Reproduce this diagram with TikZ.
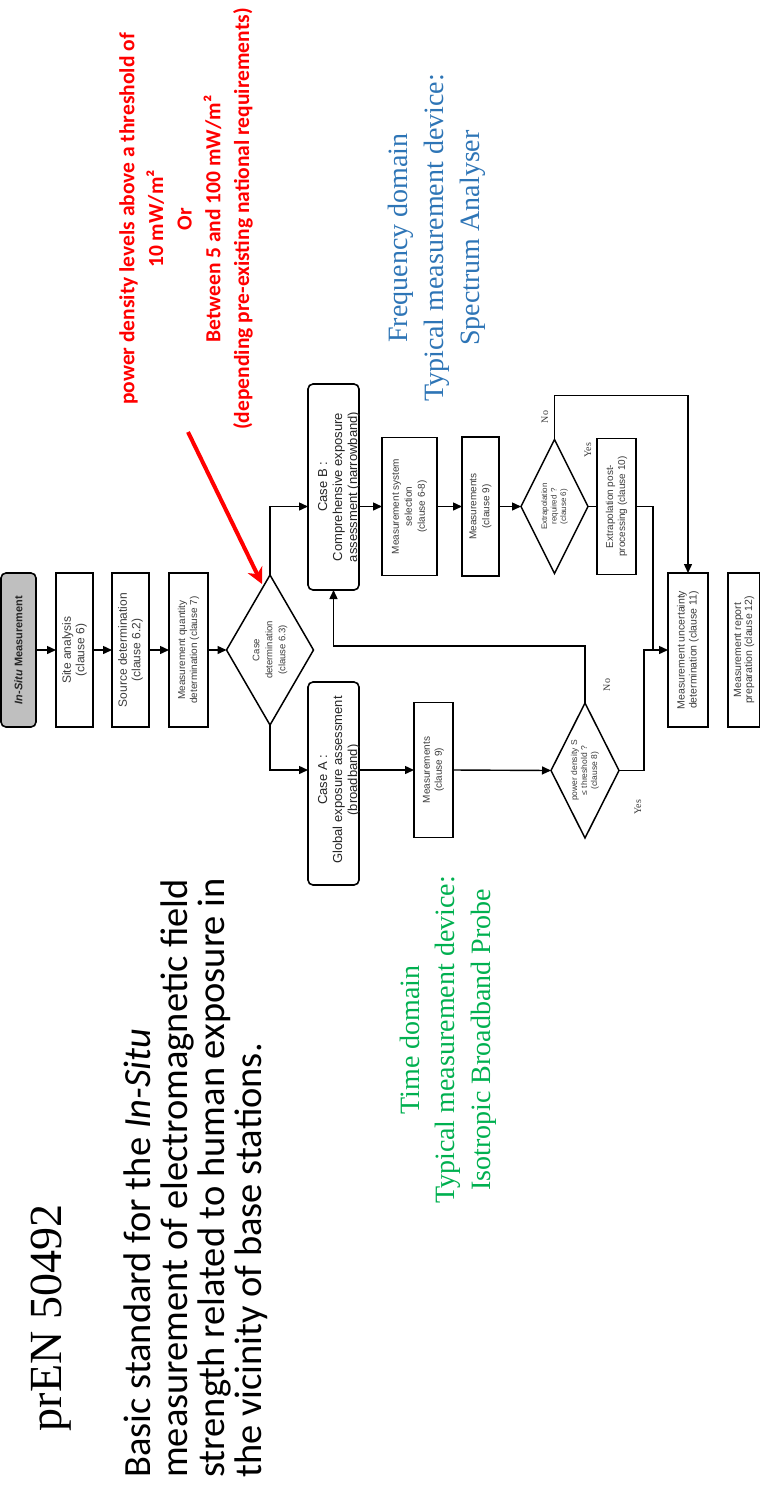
\documentclass[tikz,border=0pt]{standalone}
\usepackage{fontspec}
\setmainfont{Liberation Serif}
\newfontfamily\arialf{Liberation Sans}
\newfontfamily\calf{Carlito}
\usetikzlibrary{shapes.geometric,arrows.meta,calc}
\definecolor{bluetxt}{RGB}{46,117,182}
\definecolor{greentxt}{RGB}{0,176,80}
\definecolor{grayfill}{RGB}{191,191,191}
\definecolor{flowtxt}{RGB}{60,60,60}
\begin{document}
\begin{tikzpicture}[x=1pt,y=-1pt,
  box/.style={draw=black, line width=1.6pt, rectangle, rotate=90, inner sep=0pt, outer sep=0pt, align=center, text=flowtxt},
  rbox/.style={box, rounded corners=5pt},
  dia/.style={draw=black, line width=1.5pt, diamond, rotate=90, inner sep=0pt, outer sep=0pt, align=center, text=flowtxt},
  arr/.style={line width=1.4pt, -{Triangle[length=9pt,width=8pt]}},
  ln/.style={line width=1.4pt},
  lbl/.style={rotate=90, font=\fontsize{10}{12}\selectfont, text=flowtxt, inner sep=0pt},
  casetxt/.style={rotate=90, align=center, font=\arialf\fontsize{13}{15}\selectfont, text=black!85, inner sep=0pt},
]
\useasboundingbox (0,0) rectangle (760,1499);
\fill[white] (0,0) rectangle (760,1499);

% title and subtitle
\node[rotate=90, inner sep=0pt, font=\fontsize{46}{50}\selectfont] (title) at (51,1318) {prEN 50492};
\node[rotate=90, anchor=north west, align=left, inner sep=0pt, font=\calf\fontsize{38.5}{37}\selectfont] (sub) at (124,1478)
  {Basic standard for the \textit{In-Situ}\\measurement of electromagnetic field\\strength related to human exposure in\\the vicinity of base stations.};

% red annotation
\node[rotate=90, align=center, inner sep=0pt, font=\calf\bfseries\fontsize{21.5}{28.7}\selectfont, text=red] (redt) at (186,219)
  {power density levels above a threshold of\\10 mW/m²\\Or\\Between 5 and 100 mW/m²\\(depending pre-existing national requirements)};

% domain texts
\node[rotate=90, align=center, inner sep=0pt, font=\fontsize{28}{36}\selectfont, text=bluetxt] (freq) at (437,238)
  {Frequency domain\\Typical measurement device:\\Spectrum Analyser};
\node[rotate=90, align=center, inner sep=0pt, font=\fontsize{28}{35.5}\selectfont, text=greentxt] (time) at (448,1040)
  {Time domain\\Typical measurement device:\\Isotropic Broadband Probe};

% flowchart
\node[rbox, fill=grayfill, minimum width=154pt, minimum height=35pt, font=\arialf\bfseries\fontsize{11}{13}\selectfont, text=black!85] (insitu) at (18.5,650) {\textit{In-Situ} Measurement};
\node[box, minimum width=154pt, minimum height=37pt, font=\arialf\fontsize{12}{13.5}\selectfont] (site) at (74.5,650) {Site analysis\\(clause 6)};
\node[box, minimum width=154pt, minimum height=37pt, font=\arialf\fontsize{12}{13.5}\selectfont] (source) at (130.5,650) {Source determination\\(clause 6.2)};
\node[box, minimum width=154pt, minimum height=39pt, font=\arialf\fontsize{10}{12}\selectfont] (mqd) at (188.5,650) {Measurement quantity\\determination (clause 7)};
\node[dia, minimum width=150pt, minimum height=87pt, shape aspect=1.72, font=\arialf\fontsize{9.5}{13}\selectfont] (casedet) at (270,650) {Case\\determination\\(clause 6.3)};

\node[rbox, minimum width=203pt, minimum height=51pt] (caseA) at (333.5,783.5) {};
\node[casetxt] (caseAt) at (339,780) {Case A :\\Global exposure assessment\\(broadband)};
\node[rbox, minimum width=206pt, minimum height=51pt] (caseB) at (333.5,487) {};
\node[casetxt] (caseBt) at (339,487) {Case B :\\Comprehensive exposure\\assessment (narrowband)};

\node[box, minimum width=135pt, minimum height=39pt, font=\arialf\fontsize{10}{12}\selectfont] (measA) at (433.5,770) {Measurements\\(clause 9)};
\node[dia, minimum width=135pt, minimum height=68pt, shape aspect=2, font=\arialf\fontsize{8.5}{10}\selectfont] (pd) at (585,770.5) {power density S\\≤ threshold ?\\(clause 8)};

\node[box, minimum width=138pt, minimum height=55pt, font=\arialf\fontsize{10}{13}\selectfont] (mss) at (409.5,506.5) {Measurement system\\selection\\(clause 6-8)};
\node[box, minimum width=139pt, minimum height=37pt, font=\arialf\fontsize{10}{13}\selectfont] (measB) at (480.5,506.5) {Measurements\\(clause 9)};
\node[dia, minimum width=134pt, minimum height=67pt, shape aspect=2, font=\arialf\fontsize{8}{9.5}\selectfont] (extr) at (554.5,506.5) {Extrapolation\\required ?\\(clause 6)};
\node[box, minimum width=136pt, minimum height=39pt, font=\arialf\fontsize{10}{12}\selectfont] (epp) at (616.5,506.5) {Extrapolation post-\\processing (clause 10)};

\node[box, minimum width=154pt, minimum height=40pt, font=\arialf\fontsize{10.5}{12}\selectfont] (mud) at (688,650) {Measurement uncertainty\\determination (clause 11)};
\node[box, minimum width=154pt, minimum height=32pt, font=\arialf\fontsize{10.5}{11}\selectfont] (mrp) at (744,650) {Measurement report\\preparation (clause 12)};

% connectors
\draw[arr] (insitu.south) -- (site.north);
\draw[arr] (site.south) -- (source.north);
\draw[arr] (source.south) -- (mqd.north);
\draw[arr] (mqd.south) -- (casedet.north);
\draw[arr] (casedet.west) |- (caseA.north |- 0,770);
\draw[arr] (casedet.east) |- (caseB.north |- 0,506.5);
\draw[arr] (caseA.south |- 0,770) -- (measA.north);
\draw[arr] (measA.south) -- (pd.north);
\draw[arr] (pd.east) -- (pd.east |- 0,646) -| (caseB.west);
\draw[arr] (pd.south) -| ($(mud.north)+(-24,0)$) -- (mud.north);
\draw[arr] (caseB.south |- mss.north) -- (mss.north);
\draw[arr] (mss.south) -- (measB.north);
\draw[arr] (measB.south) -- (extr.north);
\draw[ln] (extr.south) -- (epp.north);
\draw[arr] (extr.east) -- ++(0,-44) -| (mud.east);
\draw[ln] (epp.south) -| ($(mud.north)+(-15,0)$);

% labels
\node[lbl] (no1) at (607,685) {No};
\node[lbl] (yes1) at (638,807) {Yes};
\node[lbl] (no2) at (545,417) {No};
\node[lbl] (yes2) at (588,450) {Yes};

% red arrow
\coordinate (redstart) at (188,432);
\coordinate (redtip) at (262,584);
\draw[red, line width=4pt, -{Stealth[length=16pt,width=16pt,inset=5pt]}] (redstart) -- (redtip);
\end{tikzpicture}
\end{document}
